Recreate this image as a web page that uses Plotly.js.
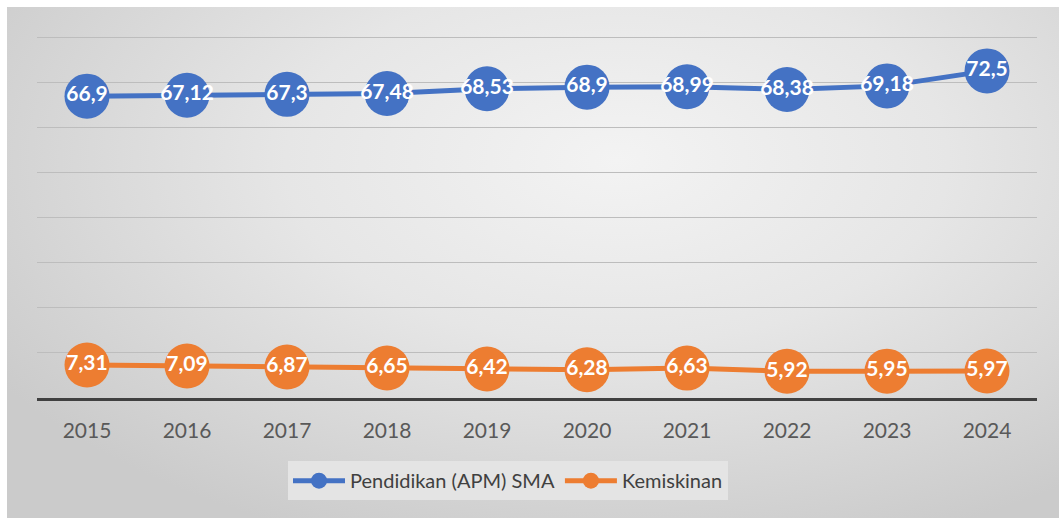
<!DOCTYPE html>
<html>
<head>
<meta charset="utf-8">
<script src="https://cdn.plot.ly/plotly-3.0.1.min.js"></script>
<style>
  html, body { margin:0; padding:0; background:#ffffff; }
  #wrap { position:relative; width:1059px; height:518px; overflow:hidden; }
  #bg { position:absolute; left:7px; top:7px; width:1052px; height:511px;
        background: radial-gradient(ellipse 70% 80% at 58% 30%, #f3f3f3 0%, #e6e6e6 45%, #cbcbcb 100%); }
  #chart { position:absolute; left:0; top:0; width:1059px; height:518px; }
</style>
</head>
<body>
<div id="wrap"><div id="bg"></div><div id="chart"></div></div>
<script>
const years = ['2015','2016','2017','2018','2019','2020','2021','2022','2023','2024'];
const pendidikan = [66.9, 67.12, 67.3, 67.48, 68.53, 68.9, 68.99, 68.38, 69.18, 72.5];
const kemiskinan = [7.31, 7.09, 6.87, 6.65, 6.42, 6.28, 6.63, 5.92, 5.95, 5.97];
const seriesNames = ['Pendidikan (APM) SMA', 'Kemiskinan'];

const fmt = v => String(v).replace('.', ',');

function trace(vals, name, color) {
  return {
    x: years, y: vals, name: name, type: 'scatter', mode: 'lines+markers+text',
    line: { color: color, width: 5 },
    marker: { color: color, size: 45, line: { width: 0 } },
    text: vals.map(fmt), textposition: 'middle center',
    textfont: { family: 'Lato, "Open Sans", sans-serif', size: 21, color: '#ffffff', weight: 'bold' },
    hoverinfo: 'skip', cliponaxis: false
  };
}

const data = [
  trace(pendidikan, seriesNames[0], '#4472C4'),
  trace(kemiskinan, seriesNames[1], '#ED7D31')
];

const layout = {
  width: 1059, height: 518,
  margin: { l: 37, r: 22, t: 33, b: 120 },
  paper_bgcolor: 'rgba(0,0,0,0)', plot_bgcolor: 'rgba(0,0,0,0)',
  font: { family: 'Lato, "Open Sans", sans-serif', color: '#595959' },
  xaxis: {
    type: 'category', range: [-0.5, 9.5], autorange: false,
    showgrid: false, zeroline: false,
    showline: true, linecolor: '#404040', linewidth: 3,
    ticks: '', ticklabelstandoff: 12,
    tickfont: { size: 21, color: '#595959' }
  },
  yaxis: {
    range: [0, 80.9], autorange: false, tick0: 0, dtick: 10, showticklabels: false, ticks: '',
    gridcolor: '#bdbdbd', gridwidth: 1, zeroline: false, showline: false
  },
  showlegend: true,
  legend: {
    orientation: 'h', x: 0.471, xanchor: 'center', y: -0.173, yanchor: 'top',
    bgcolor: '#e4e4e4', borderwidth: 0,
    font: { size: 20, color: '#404040' }, itemwidth: 52,
    itemsizing: 'trace'
  }
};

Plotly.newPlot('chart', data, layout, { displayModeBar: false, staticPlot: true });
</script>
</body>
</html>
